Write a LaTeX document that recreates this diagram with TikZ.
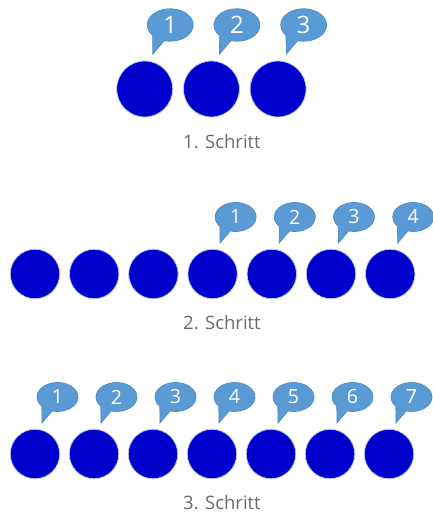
\documentclass[tikz,border=0pt]{standalone}
\usepackage{fontspec}
\setmainfont{Open Sans}
\usetikzlibrary{positioning}
\definecolor{kugelblau}{HTML}{0000CD}
\definecolor{kugelrand}{HTML}{B9C9E6}
\definecolor{blasenblau}{HTML}{5B9BD5}
\definecolor{blasenrand}{HTML}{4D8BC6}
\definecolor{textgrau}{HTML}{6B6B6B}

\tikzset{
  sprechblase/.pic={
    \filldraw[blase] (255:20.5 and 14.5)
      arc[start angle=255, end angle=580, x radius=20.5, y radius=14.5]
      -- (-15.5,-26) -- cycle;
    \node[zahl] (-zahl) at (0,0) {#1};
  }
}

\begin{document}
\begin{tikzpicture}[
   x=1pt, y=1pt,
   kugel/.style={circle, fill=kugelblau, draw=kugelrand, line width=0.8pt,
                 minimum size=49.5pt, inner sep=0pt},
   blase/.style={fill=blasenblau, draw=blasenrand, line width=0.7pt},
   zahl/.style={text=white, font=\fontsize{19.5}{20}\selectfont, inner sep=0pt},
   schritt/.style={text=textgrau, font=\fontsize{18.5}{20}\selectfont, anchor=base},
   gross/.style={scale=1.12, zahl/.append style={font=\fontsize{24}{26}\selectfont}}]
 \useasboundingbox (0,0) rectangle (433,514);
 % 1. Schritt
 \node[kugel, minimum size=56pt] (s1k1) at (144.7,425) {};
 \foreach \i [remember=\i as \vor (initially 1)] in {2,3}
   \node[kugel, minimum size=56pt, right=9.9pt of s1k\vor] (s1k\i) {};
 \foreach \i in {1,2,3}
   \pic[gross] (s1b\i) at ([shift={(25.5,64)}]s1k\i.center) {sprechblase=\i};
 \node[schritt] (schritt1) at (222,365) {1. Schritt};
 % 2. Schritt
 \node[kugel] (s2k1) at (35,240) {};
 \foreach \i [remember=\i as \vor (initially 1)] in {2,...,7}
   \node[kugel, right=8.9pt of s2k\vor] (s2k\i) {};
 \foreach \i [evaluate=\i as \k using int(\i+3)] in {1,...,4}
   \pic (s2b\i) at ([shift={(23,57)}]s2k\k.center) {sprechblase=\i};
 \node[schritt] (schritt2) at (222,184.7) {2. Schritt};
 % 3. Schritt
 \node[kugel] (s3k1) at (35,60) {};
 \foreach \i [remember=\i as \vor (initially 1)] in {2,...,7}
   \node[kugel, right=8.7pt of s3k\vor] (s3k\i) {};
 \foreach \i in {1,...,7}
   \pic (s3b\i) at ([shift={(22.5,57)}]s3k\i.center) {sprechblase=\i};
 \node[schritt] (schritt3) at (222,4.7) {3. Schritt};
\end{tikzpicture}
\end{document}
